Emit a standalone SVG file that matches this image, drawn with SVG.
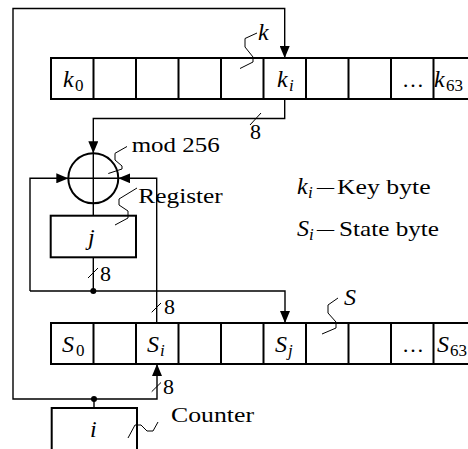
<svg xmlns="http://www.w3.org/2000/svg" width="468" height="449" viewBox="0 0 468 449">
<style>
.box{fill:#fff;stroke:#000;stroke-width:2}
.div{stroke:#000;stroke-width:2}
.ln{fill:none;stroke:#000;stroke-width:1.4}
.sq{fill:none;stroke:#000;stroke-width:1}
text{font-family:'Liberation Serif','Times New Roman',Times,'Noto Serif',serif;fill:#000}
.t{font-size:22px}
.it{font-size:24px;font-style:italic}
.sub{font-size:17px}
.subi{font-size:17px;font-style:italic}
.n8{font-size:22px}
</style>
<defs>
<marker id="ah" markerUnits="userSpaceOnUse" markerWidth="12" markerHeight="10" refX="12" refY="5" orient="auto">
<path d="M0,0 L12,5 L0,10 z" fill="#000"/>
</marker>
<marker id="ahs" markerUnits="userSpaceOnUse" markerWidth="12" markerHeight="10" refX="0" refY="5" orient="auto">
<path d="M12,0 L0,5 L12,10 z" fill="#000"/>
</marker>
</defs>

<g id="connectors">
<path class="ln" d="M94,399 H13 V8.5 H284.7 V58" marker-end="url(#ah)"/>
<path class="ln" d="M94,408 V399 H157 V364" marker-end="url(#ah)"/>
<path class="ln" d="M284.7,99 V118.5 H93.3 V153.3" marker-end="url(#ah)"/>
<path class="ln" d="M93.3,203.3 V215.7"/>
<path class="ln" d="M93.3,257.3 V291"/>
<path class="ln" d="M30,291 H285 V323" marker-end="url(#ah)"/>
<path class="ln" d="M30,291 V178.3 H68.3" marker-end="url(#ah)"/>
<path class="ln" d="M156.7,323 V178.3 H118.3" marker-end="url(#ah)"/>
<path class="ln" d="M179,343.3 H263.5" marker-start="url(#ahs)" marker-end="url(#ah)"/>
<circle cx="93.3" cy="291" r="3"/>
<circle cx="94" cy="399" r="3"/>
<path class="sq" d="M250,125 L261,113"/>
<text class="n8" x="250" y="139">8</text>
<path class="sq" d="M88,278 L98,268"/>
<text class="n8" x="100" y="281">8</text>
<path class="sq" d="M151.7,312.3 L161,303"/>
<text class="n8" x="164" y="314">8</text>
<path class="sq" d="M151.7,391.7 L161,382.5"/>
<text class="n8" x="163" y="394">8</text>
</g>

<g id="key-array">
<rect class="box" x="51" y="58" width="425" height="41"/>
<path class="div" d="M93.5,58 V99 M136,58 V99 M178.5,58 V99 M221,58 V99 M263.5,58 V99 M306,58 V99 M348.5,58 V99 M391,58 V99 M433.5,58 V99"/>
<text class="it" x="63" y="87">k</text><text class="sub" x="75" y="91">0</text>
<text class="it" x="277" y="87">k</text><text class="subi" x="289" y="91">i</text>
<text class="t" x="402" y="87">…</text>
<text class="it" x="434" y="87">k</text><text class="sub" x="446" y="91">63</text>
<path class="sq" d="M257,33 L245,38.5 V47 L253,57 V62 L240,68.5"/>
<text class="it" x="258" y="40">k</text>
</g>

<g id="adder">
<circle cx="93.3" cy="178.3" r="25" fill="none" stroke="#000" stroke-width="2"/>
<path class="ln" d="M93.3,153.3 V203.3 M68.3,178.3 H118.3"/>
<path class="sq" d="M127,146.5 L115,153.3 V160 L122,166 V169 L108.3,173.5"/>
<text class="t" x="131.7" y="152" textLength="88" lengthAdjust="spacingAndGlyphs">mod 256</text>
</g>

<g id="register">
<rect class="box" x="50.7" y="215.7" width="85.3" height="41.6"/>
<text class="it" x="88" y="245">j</text>
<path class="sq" d="M137,188 L119,199 V205 L128,211 V218 L115,225"/>
<text class="t" x="138.3" y="203" textLength="84.5" lengthAdjust="spacingAndGlyphs">Register</text>
</g>

<g id="legend">
<text class="it" x="297" y="194">k</text><text class="subi" x="308" y="198">i</text>
<text class="t" x="317" y="194" textLength="17" lengthAdjust="spacingAndGlyphs">–</text>
<text class="t" x="337" y="194" textLength="93.7" lengthAdjust="spacingAndGlyphs">Key byte</text>
<text class="it" x="297" y="236">S</text><text class="subi" x="309" y="240">i</text>
<text class="t" x="317" y="236" textLength="17" lengthAdjust="spacingAndGlyphs">–</text>
<text class="t" x="339" y="236" textLength="100" lengthAdjust="spacingAndGlyphs">State byte</text>
</g>

<g id="state-array">
<rect class="box" x="51" y="323" width="425" height="41"/>
<path class="div" d="M93.5,323 V364 M136,323 V364 M178.5,323 V364 M221,323 V364 M263.5,323 V364 M306,323 V364 M348.5,323 V364 M391,323 V364 M433.5,323 V364"/>
<text class="it" x="62" y="352">S</text><text class="sub" x="76" y="356">0</text>
<text class="it" x="147" y="352">S</text><text class="subi" x="160" y="356">i</text>
<text class="it" x="275" y="352">S</text><text class="subi" x="288" y="356">j</text>
<text class="t" x="402" y="352">…</text>
<text class="it" x="437" y="352">S</text><text class="sub" x="450" y="356">63</text>
<path class="sq" d="M338,298 L328,305 V313 L336,322 V328 L322,334"/>
<text class="it" x="344" y="305">S</text>
</g>

<g id="counter">
<path class="box" d="M51.7,452 V408 H137 V452" fill="none"/>
<text class="it" x="90" y="437">i</text>
<path class="sq" d="M128,438 L135,425 L141,425 L147,431 L153,431 L158,422"/>
<text class="t" x="171" y="422" textLength="83" lengthAdjust="spacingAndGlyphs">Counter</text>
</g>
</svg>
